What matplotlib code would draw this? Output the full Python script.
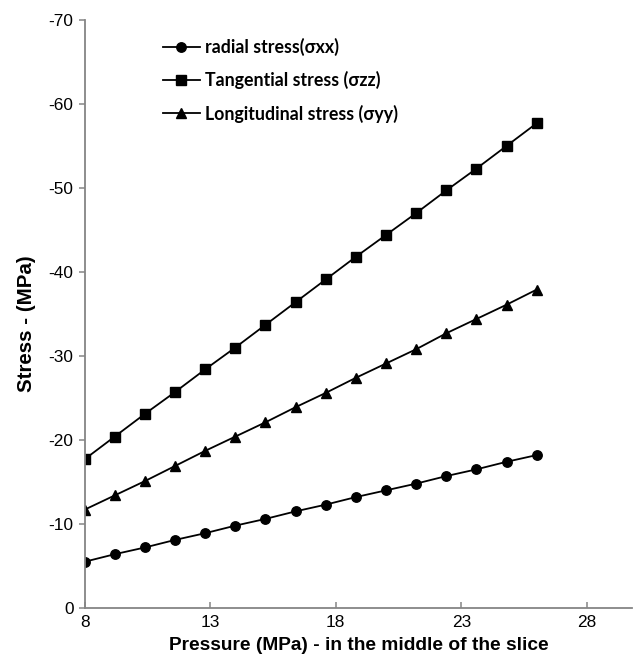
import matplotlib.pyplot as plt
import numpy as np

# pressure in the middle of the slice (MPa)
pressure = [8.0, 9.2, 10.4, 11.6, 12.8, 14.0, 15.2, 16.4,
            17.6, 18.8, 20.0, 21.2, 22.4, 23.6, 24.8, 26.0]

# stresses (MPa), compressive -> negative
radial = [-5.5, -6.4, -7.2, -8.1, -8.9, -9.8, -10.6, -11.5,
          -12.3, -13.2, -14.0, -14.8, -15.7, -16.5, -17.4, -18.2]
tangential = [-17.7, -20.4, -23.1, -25.7, -28.4, -31.0, -33.7, -36.4,
              -39.1, -41.8, -44.4, -47.0, -49.7, -52.3, -55.0, -57.7]
longitudinal = [-11.7, -13.4, -15.1, -16.9, -18.7, -20.4, -22.1, -23.9,
                -25.6, -27.4, -29.1, -30.8, -32.7, -34.4, -36.1, -37.9]

labels = ['radial stress(σxx)', 'Tangential stress (σzz)', 'Longitudinal stress (σyy)']

plt.rcParams['font.family'] = ['Liberation Sans', 'DejaVu Sans']
plt.rcParams['axes.unicode_minus'] = False

fig = plt.figure(figsize=(6.36, 6.63), dpi=100)
ax = fig.add_axes([0.133, 0.083, 0.861, 0.887])

ax.plot(pressure, radial, 'o-', color='black', lw=1.3, ms=6.8, label=labels[0])
ax.plot(pressure, tangential, 's-', color='black', lw=1.3, ms=6.5, label=labels[1])
ax.plot(pressure, longitudinal, '^-', color='black', lw=1.3, ms=6.8, label=labels[2])

ax.set_xlim(8, 29.8)
ax.set_ylim(0, -70)
ax.set_xticks([8, 13, 18, 23, 28])
ax.set_yticks(np.arange(0, -71, -10))

for s in ['top', 'right']:
    ax.spines[s].set_visible(False)
for s in ['left', 'bottom']:
    ax.spines[s].set_color('#858585')
    ax.spines[s].set_linewidth(1.3)
ax.tick_params(colors='#858585', labelcolor='black', labelsize=12.4, width=1.1)
ax.tick_params(axis='y', direction='out', length=4.5, pad=3.5)
ax.tick_params(axis='x', direction='in', length=4, pad=5)

ax.set_xlabel('Pressure (MPa) - in the middle of the slice', fontsize=13.75, fontweight='bold', labelpad=5)
ax.set_ylabel('Stress - (MPa)', fontsize=14.8, fontweight='bold')
ax.yaxis.set_label_coords(-0.088, 0.484)

# legend placed in figure pixels, top-left of the plot
leg = ax.legend(loc='upper left', bbox_to_anchor=(163 / 636, (663 - 38) / 663),
                bbox_transform=fig.transFigure,
                frameon=False, borderpad=0, borderaxespad=0,
                handlelength=2.08, handletextpad=0.28, labelspacing=0.85,
                prop={'family': ['Lato', 'DejaVu Sans'], 'weight': 'bold', 'size': 12.8})

fig.savefig('out.png', dpi=100)
